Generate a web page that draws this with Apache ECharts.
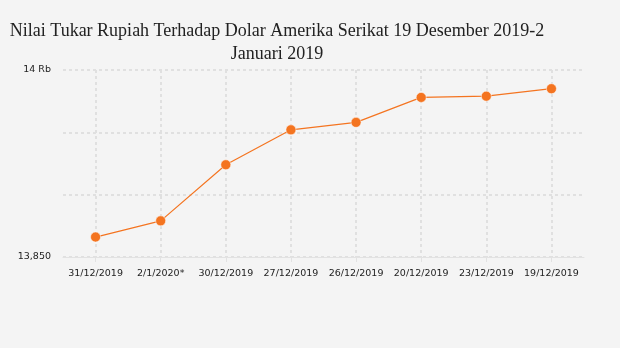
<!DOCTYPE html>
<html>
<head>
<meta charset="utf-8">
<script src="https://cdn.jsdelivr.net/npm/echarts@6/dist/echarts.min.js"></script>
<style>
html,body{margin:0;padding:0;background:#f4f4f4;}
#chart{width:620px;height:348px;}
</style>
</head>
<body>
<div id="chart"></div>
<script>
var categories = ['31/12/2019', '2/1/2020*', '30/12/2019', '27/12/2019', '26/12/2019', '20/12/2019', '23/12/2019', '19/12/2019'];
var rateValues = [13866, 13879, 13924, 13952, 13958, 13978, 13979, 13985];
var titleLines = ['Nilai Tukar Rupiah Terhadap Dolar Amerika Serikat 19 Desember 2019-2', 'Januari 2019'];

var chart = echarts.init(document.getElementById('chart'), null, {renderer: 'canvas'});
chart.setOption({
  backgroundColor: '#f4f4f4',
  animation: false,
  title: {
    text: titleLines.join('\n'),
    left: 272,
    top: 15,
    textAlign: 'center',
    textStyle: {
      fontFamily: 'Liberation Serif',
      fontSize: 18,
      fontWeight: 'normal',
      color: '#222',
      lineHeight: 23
    }
  },
  grid: {left: 63, right: 36, top: 70, bottom: 91, containLabel: false},
  xAxis: {
    type: 'category',
    data: categories,
    boundaryGap: true,
    axisLine: {show: true, lineStyle: {color: '#e2e2e2', width: 1}},
    axisTick: {show: true, alignWithLabel: true, length: 5, lineStyle: {color: '#e2e2e2'}},
    axisLabel: {fontFamily: 'DejaVu Sans', fontSize: 9.5, color: '#222', margin: 12, interval: 0},
    splitLine: {show: true, alignWithLabel: true, lineStyle: {color: '#e0e0e0', type: [3, 3], width: 2}}
  },
  yAxis: {
    type: 'value',
    min: 13850,
    max: 14000,
    interval: 50,
    axisLine: {show: false},
    axisTick: {show: false},
    axisLabel: {
      fontFamily: 'DejaVu Sans', fontSize: 9.5, color: '#222', margin: 12,
      formatter: function (v) {
        if (v === 14000) return '14 Rb';
        if (v === 13850) return '13,850';
        return '';
      }
    },
    splitLine: {show: true, lineStyle: {color: '#e0e0e0', type: [3, 3], width: 2}}
  },
  series: [{
    type: 'line',
    data: rateValues,
    symbol: 'circle',
    symbolSize: 10,
    itemStyle: {color: '#f47420', borderColor: 'rgba(255,255,255,0.5)', borderWidth: 1},
    lineStyle: {color: '#f47420', width: 1.2}
  }]
});
</script>
</body>
</html>
